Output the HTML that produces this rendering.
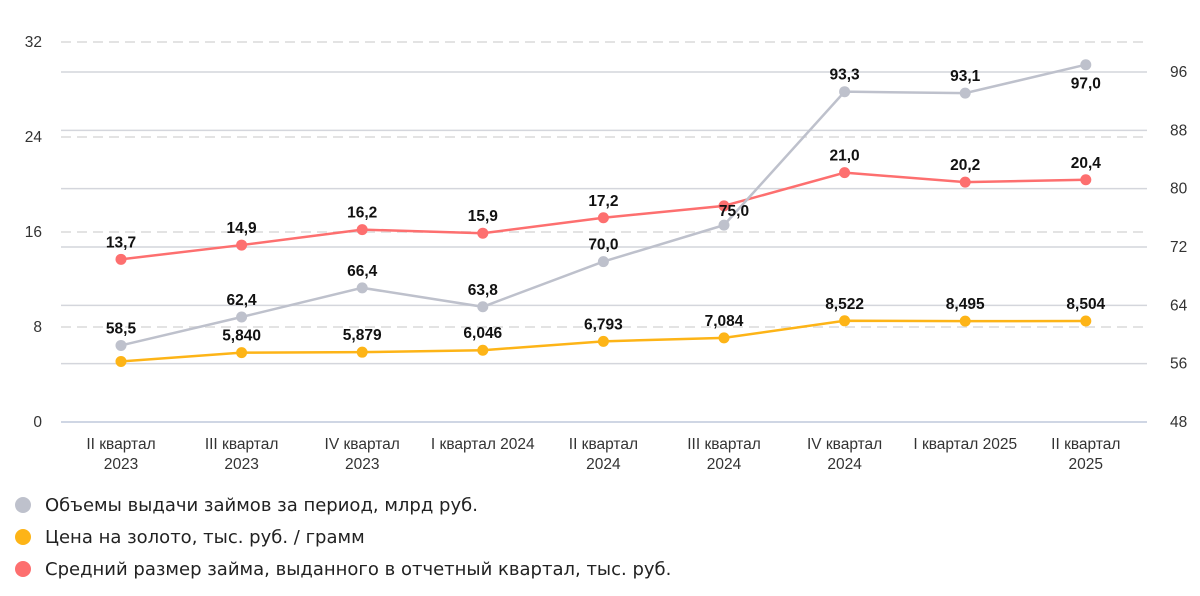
<!DOCTYPE html>
<html><head><meta charset="utf-8"><style>
body{margin:0;background:#fff;width:1200px;height:596px;overflow:hidden}
svg{display:block}
.t{font-family:"Liberation Sans",sans-serif;font-size:15.5px;fill:#333}
.v{font-family:"Liberation Sans",sans-serif;font-size:15.5px;font-weight:bold;fill:#111;text-anchor:middle}
.lg{font-family:"DejaVu Sans",sans-serif;font-size:18px;fill:#222}
</style></head><body>
<svg id="chart" width="1200" height="596"></svg>
<script>
const categories=[["II квартал","2023"],["III квартал","2023"],["IV квартал","2023"],["I квартал 2024",""],["II квартал","2024"],["III квартал","2024"],["IV квартал","2024"],["I квартал 2025",""],["II квартал","2025"]];
const volumes=[58.5,62.4,66.4,63.8,70.0,75.0,93.3,93.1,97.0];
const goldPrice=[5.1,5.840,5.879,6.046,6.793,7.084,8.522,8.495,8.504];
const goldLabels=["","5,840","5,879","6,046","6,793","7,084","8,522","8,495","8,504"];
const avgLoan=[13.7,14.9,16.2,15.9,17.2,18.2,21.0,20.2,20.4];
const avgLabels=["13,7","14,9","16,2","15,9","17,2","","21,0","20,2","20,4"];
const volLabels=["58,5","62,4","66,4","63,8","70,0","75,0","93,3","93,1","97,0"];
const leftTicks=[0,8,16,24,32];
const rightTicks=[48,56,64,72,80,88,96];

const NS="http://www.w3.org/2000/svg";
const svg=document.getElementById('chart');
const x=i=>121+i*120.6;
const yL=v=>422-v*(380/32);
const yR=v=>422-(v-48)*(350/48);
function el(t,a,p){const e=document.createElementNS(NS,t);for(const k in a)e.setAttribute(k,a[k]);(p||svg).appendChild(e);return e;}
leftTicks.forEach(v=>{
  const y=yL(v);
  const l=el('line',{x1:61,x2:1147,y1:y,y2:y,stroke:v===0?'#cfd6e4':'#e3e3e3','stroke-width':2,'stroke-dasharray':v===0?'':'10,6'});
  
  
  const t=el('text',{x:42,y:y+5,'text-anchor':'end',class:'t'});t.textContent=v;
  
  
});
rightTicks.forEach(v=>{
  const y=yR(v);
  if(v!==48){const l=el('line',{x1:61,x2:1147,y1:y,y2:y,stroke:'#d4d6dc','stroke-width':1.5});
  
  }
  const t=el('text',{x:1170,y:y+5,'text-anchor':'start',class:'t'});t.textContent=v;
  
  
});
categories.forEach((c,i)=>{
  const t=el('text',{x:x(i),y:449,'text-anchor':'middle',class:'t'});t.textContent=c[0];
  
  
  if(c[1]){const t2=el('text',{x:x(i),y:469,'text-anchor':'middle',class:'t'});t2.textContent=c[1];
  
  }
});
function series(vals,yf,color,labels,name,offs){
  const g=el('g',{});
  
  
  el('polyline',{points:vals.map((v,i)=>x(i)+','+yf(v)).join(' '),fill:'none',stroke:color,'stroke-width':2.5},g);
  vals.forEach((v,i)=>{
    const c=el('circle',{cx:x(i),cy:yf(v),r:5.5,fill:color},g);
    
    
    if(labels[i]){const o=offs?offs(i):[0,-12];
      const t=el('text',{x:x(i)+o[0],y:yf(v)+o[1],class:'v'},g);t.textContent=labels[i];
      
      }
  });
}
series(goldPrice,yL,'#fdb417',goldLabels,'gold-price-series');
series(avgLoan,yL,'#fd6f6f',avgLabels,'avg-loan-series');
series(volumes,yR,'#bec1cc',volLabels,'volume-series',i=>i===8?[0,24]:(i===5?[10,-9]:[0,-12]));
[["#bec1cc","Объемы выдачи займов за период, млрд руб."],["#fdb417","Цена на золото, тыс. руб. / грамм"],["#fd6f6f","Средний размер займа, выданного в отчетный квартал, тыс. руб."]].forEach((d,i)=>{
  const y=505+i*32;
  const c=el('circle',{cx:23,cy:y,r:8,fill:d[0]});
  
  
  const t=el('text',{x:45,y:y+6,class:'lg'});t.textContent=d[1];
  
  
});
</script>
</body></html>
